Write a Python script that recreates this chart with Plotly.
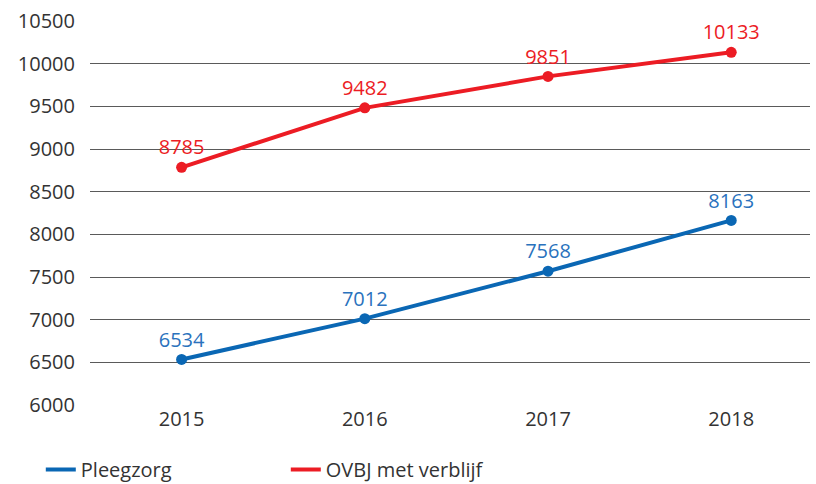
import plotly.graph_objects as go

years = ["2015", "2016", "2017", "2018"]
pleegzorg = [6534, 7012, 7568, 8163]
ovbj = [8785, 9482, 9851, 10133]
y_ticks = [6000, 6500, 7000, 7500, 8000, 8500, 9000, 9500, 10000, 10500]

blue = "#0a67b4"
red = "#ec1c24"
font = "Open Sans"

fig = go.Figure()
for name, vals, col, tcol in [("Pleegzorg", pleegzorg, blue, "#2a72bd"),
                              ("OVBJ met verblijf", ovbj, red, red)]:
    fig.add_trace(go.Scatter(x=years, y=vals, name=name, mode="lines+markers+text",
                             line=dict(color=col, width=4), marker=dict(size=11, color=col),
                             text=[str(v) for v in vals], textposition="top center",
                             textfont=dict(color=tcol, size=20, family=font), showlegend=False))
    # legend entry: line only
    fig.add_trace(go.Scatter(x=[None], y=[None], name=name, mode="lines",
                             line=dict(color=col, width=4)))

fig.update_layout(
    width=816, height=484,
    margin=dict(l=90, r=6, t=21, b=79, autoexpand=False),
    plot_bgcolor="white", paper_bgcolor="white",
    font=dict(family=font, size=20, color="#333333"),
    legend=dict(orientation="h", x=0.05, xref="container", y=0.03, yref="container",
                xanchor="left", yanchor="middle",
                entrywidth=200, entrywidthmode="pixels", font=dict(size=20, color="#333333")),
)
fig.update_xaxes(range=[-0.5, 3.43], showgrid=False, showline=False, ticks="",
                 automargin=False, tickfont=dict(size=20, color="#333333"))
fig.update_yaxes(range=[6000, 10500], tickvals=y_ticks, ticktext=[str(v) for v in y_ticks],
                 showgrid=True, gridcolor="#5a5a5a", gridwidth=1, zeroline=False, showline=False,
                 ticks="", ticklabelstandoff=14, automargin=False,
                 tickfont=dict(size=20, color="#333333"))

fig.write_html("out.html", config={"displayModeBar": False},
               post_script="document.body.style.margin='0';")
